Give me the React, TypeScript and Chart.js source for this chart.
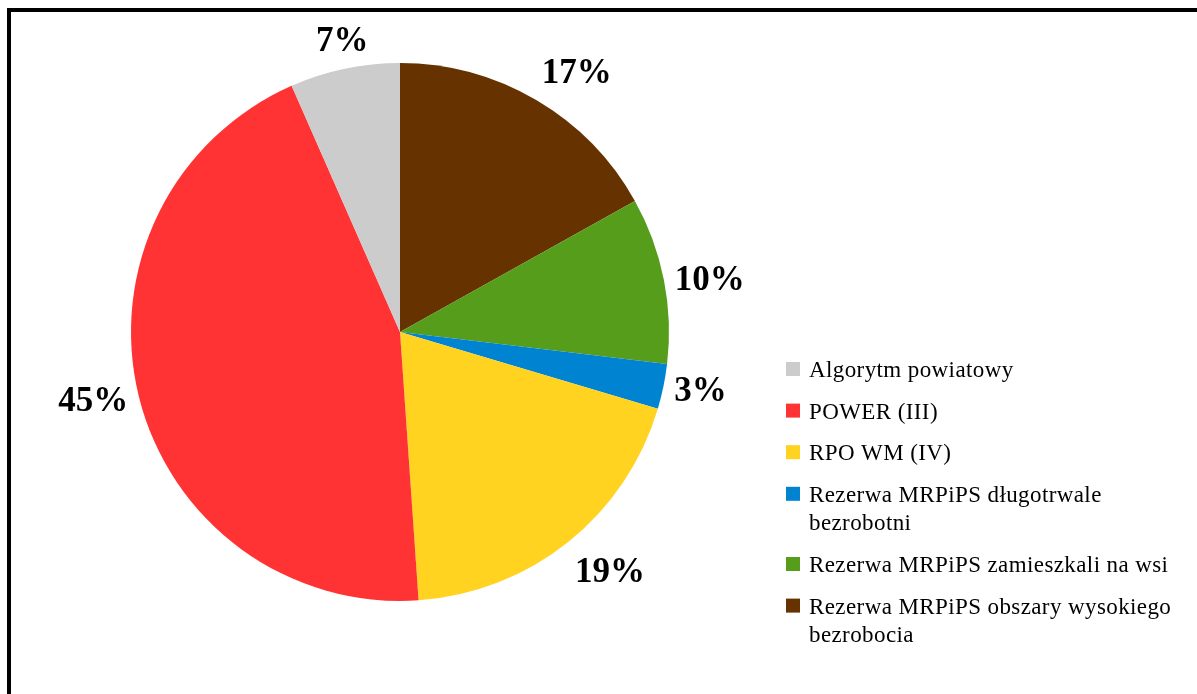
import React, { useEffect, useRef } from "react";
import { Chart, registerables } from "chart.js";

Chart.register(...registerables);

// Legend order (as shown in the legend)
const categories: string[] = [
  "Algorytm powiatowy",
  "POWER (III)",
  "RPO WM (IV)",
  "Rezerwa MRPiPS długotrwale bezrobotni",
  "Rezerwa MRPiPS zamieszkali na wsi",
  "Rezerwa MRPiPS obszary wysokiego bezrobocia",
];
const shares: number[] = [6.6, 44.5, 19.3, 2.7, 10.0, 16.9];
const colors: string[] = ["#CCCCCC", "#FF3333", "#FFD320", "#0084D1", "#579D1C", "#663300"];

const W = 1197;
const H = 694;

const LABEL_FONT = 'bold 35px "Liberation Serif", "Times New Roman", serif';
const LEGEND_FONT = '23px "Liberation Serif", "Times New Roman", serif';

function wrap(ctx: CanvasRenderingContext2D, text: string, maxW: number): string[] {
  const words = text.split(" ");
  const lines: string[] = [];
  let cur = "";
  for (const w of words) {
    const t = cur ? cur + " " + w : w;
    if (cur && ctx.measureText(t).width > maxW) {
      lines.push(cur);
      cur = w;
    } else cur = t;
  }
  if (cur) lines.push(cur);
  return lines;
}

function align(v: number): number {
  const a = Math.abs(v);
  if (a < 0.3) return 0;
  return Math.sign(v) * Math.min(1, a * 2);
}

const decorPlugin = {
  id: "decor",
  beforeDraw(chart: any) {
    const ctx = chart.ctx as CanvasRenderingContext2D;
    ctx.save();
    ctx.fillStyle = "#ffffff";
    ctx.fillRect(0, 0, W, H);
    ctx.fillStyle = "#000000";
    ctx.fillRect(7, 8, 4, H);
    ctx.fillRect(7, 8, W, 4);
    ctx.restore();
  },
  afterDraw(chart: any) {
    const ctx = chart.ctx as CanvasRenderingContext2D;
    const meta = chart.getDatasetMeta(0);
    const values: number[] = chart.data.datasets[0].data;
    ctx.save();
    // data labels (outside end)
    ctx.font = LABEL_FONT;
    ctx.fillStyle = "#000000";
    ctx.textAlign = "center";
    ctx.textBaseline = "middle";
    meta.data.forEach((arc: any, i: number) => {
      const p = arc.getProps(["x", "y", "startAngle", "endAngle", "outerRadius"], true);
      const mid = (p.startAngle + p.endAngle) / 2;
      const dx = Math.cos(mid);
      const dy = Math.sin(mid);
      const txt = Math.round(values[i]) + "%";
      const w = ctx.measureText(txt).width;
      const h = 39;
      const d = p.outerRadius + 11;
      const ax = p.x + dx * d;
      const ay = p.y + dy * d;
      const cx = ax + align(dx) * (w / 2);
      const cy = ay + align(dy) * (h / 2) + 3;
      ctx.fillText(txt, cx, cy);
    });
    // legend
    ctx.font = LEGEND_FONT;
    (ctx as any).letterSpacing = "0.4px";
    ctx.textAlign = "left";
    ctx.textBaseline = "alphabetic";
    let y = 377;
    const lineH = 28.6;
    const gap = 13;
    categories.forEach((c, i) => {
      const lines = wrap(ctx, c, 385);
      ctx.fillStyle = colors[i];
      ctx.fillRect(786, y - 15, 14, 14);
      ctx.fillStyle = "#000000";
      lines.forEach((ln, k) => {
        ctx.fillText(ln, 809, y + k * lineH);
      });
      y += lines.length * lineH + gap;
    });
    (ctx as any).letterSpacing = "0px";
    ctx.restore();
  },
};

export default function App() {
  const ref = useRef<HTMLCanvasElement>(null);
  useEffect(() => {
    if (!ref.current) return;
    // Drawing order is reversed (slices run counter-clockwise in the original)
    const order = categories.map((_, i) => i).reverse();
    const chart = new Chart(ref.current, {
      type: "pie",
      data: {
        labels: order.map((i) => categories[i]),
        datasets: [
          {
            data: order.map((i) => shares[i]),
            backgroundColor: order.map((i) => colors[i]),
            borderWidth: 0,
          },
        ],
      },
      options: {
        responsive: false,
        animation: false,
        devicePixelRatio: 1,
        layout: { padding: { left: 131, right: 528, top: 63, bottom: 93 } },
        plugins: {
          legend: { display: false },
          tooltip: { enabled: false },
        },
      },
      plugins: [decorPlugin],
    } as any);
    return () => chart.destroy();
  }, []);
  return (
    <div style={{ position: "absolute", left: 0, top: 0, width: W, height: H, background: "#fff" }}>
      <canvas ref={ref} width={W} height={H} style={{ display: "block" }} />
    </div>
  );
}
